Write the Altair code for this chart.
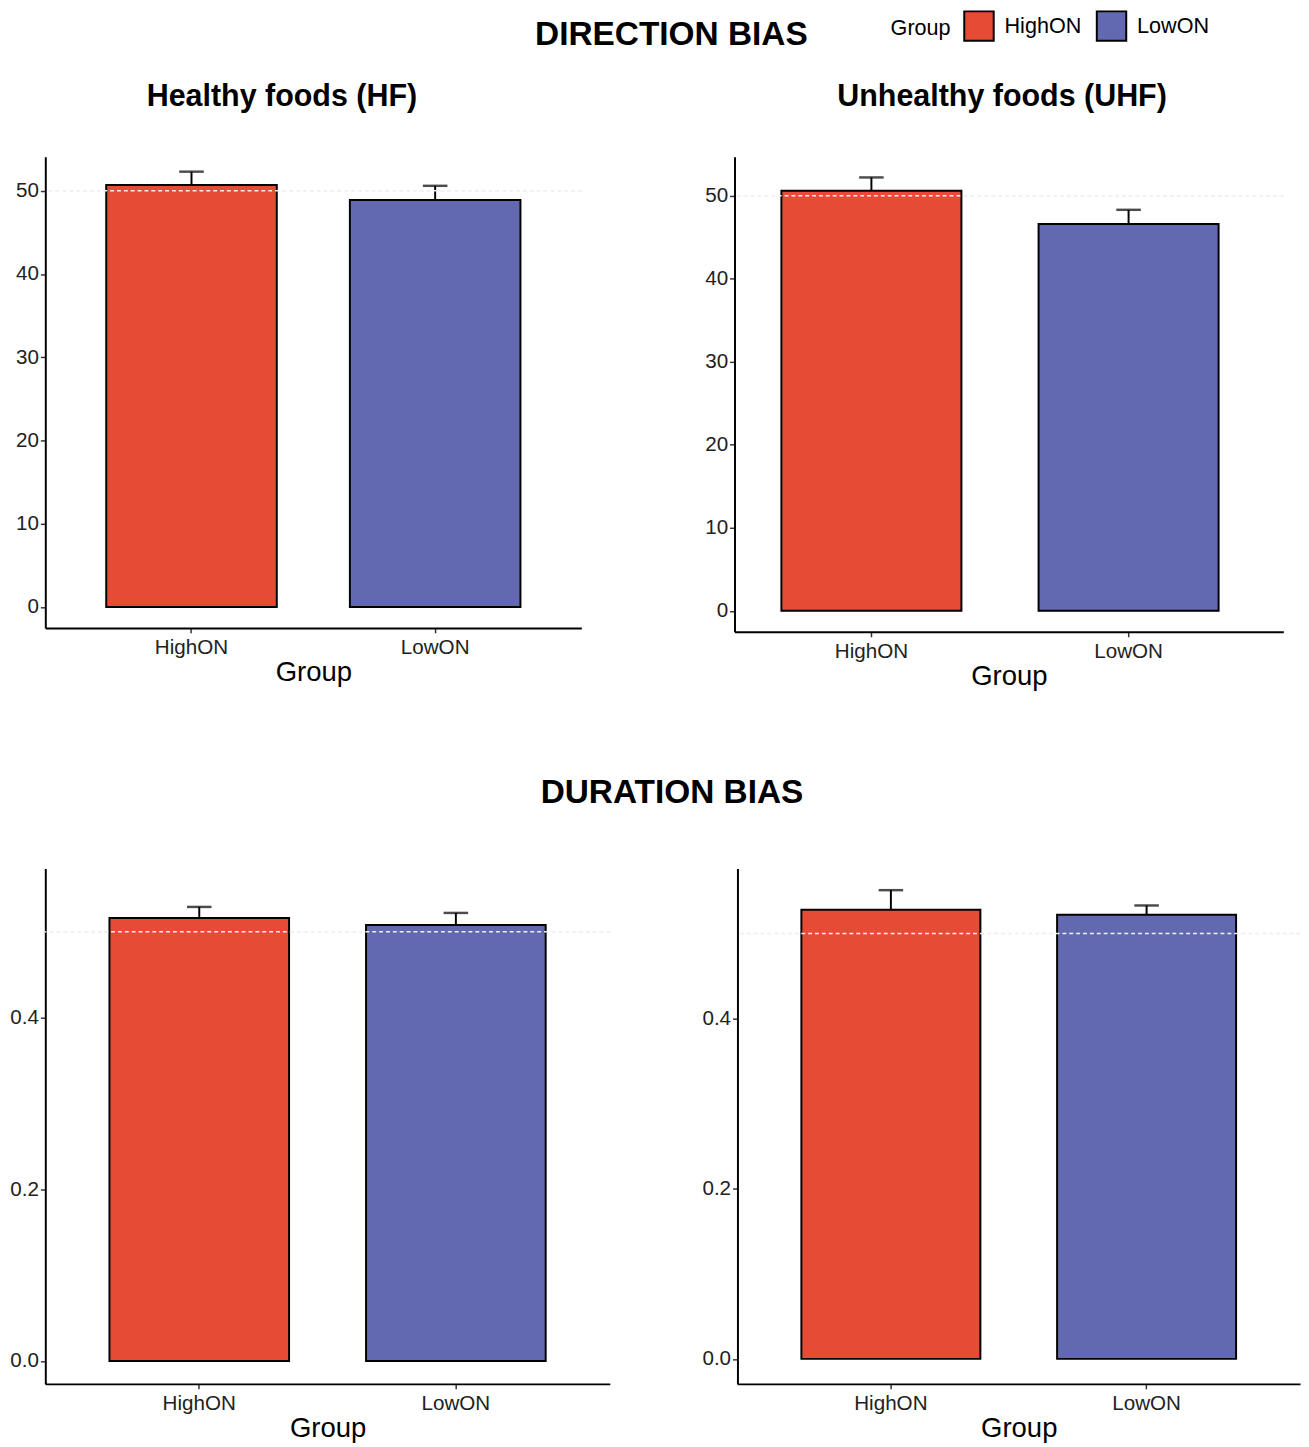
import altair as alt
import pandas as pd

groups = ["HighON", "LowON"]
colors = ["#E64B35", "#6369B0"]

# Direction bias (values), upper error = mean + se
dir_hf_mean = [50.7, 48.9]
dir_hf_se = [1.6, 1.7]
dir_uhf_mean = [50.6, 46.6]
dir_uhf_se = [1.6, 1.7]
# Duration bias
dur_hf_mean = [0.516, 0.508]
dur_hf_se = [0.013, 0.014]
dur_uhf_mean = [0.528, 0.522]
dur_uhf_se = [0.023, 0.011]

dir_ticks = [0, 10, 20, 30, 40, 50]
dur_ticks = [0.0, 0.2, 0.4]
dir_ref = 50
dur_ref = 0.5

FONT = "Liberation Sans"


def panel(mean, se, ref, domain, ticks, fmt, w, h, title=None, title_style=None,
          pad_outer=0.25, align=0.5):
    df = pd.DataFrame({
        "Group": groups,
        "mean": mean,
        "upper": [m + s for m, s in zip(mean, se)],
    })
    ref_df = pd.DataFrame({"ref": [ref]})
    xenc = alt.X(
        "Group:N",
        sort=groups,
        scale=alt.Scale(paddingInner=0.3, paddingOuter=pad_outer, align=align),
        axis=alt.Axis(
            title="Group", labelAngle=0, labelFontSize=21, labelColor="#222",
            labelFont=FONT, titleFont=FONT, titleFontSize=28, titleFontWeight="normal",
            titleColor="black", domainColor="black", domainWidth=2, tickColor="#333",
            tickSize=5, tickWidth=1.5, labelPadding=4, titlePadding=2,
        ),
    )
    yscale = alt.Scale(domain=domain, nice=False, zero=False)
    yaxis = alt.Axis(
        title=None, values=ticks, format=fmt, grid=False, labelFontSize=21,
        labelColor="#222", labelFont=FONT, domainColor="black", domainWidth=2,
        tickColor="#333", tickSize=5, tickWidth=1.5, labelPadding=2,
    )
    grey = alt.Chart(ref_df).mark_rule(
        color="#d8d8d8", strokeDash=[2, 5], strokeWidth=1.5
    ).encode(y=alt.Y("ref:Q", scale=yscale, axis=yaxis))
    base = alt.Chart(df)
    err = base.mark_rule(color="black", strokeWidth=2).encode(
        x=xenc, y=alt.Y("mean:Q", scale=yscale, axis=yaxis), y2="upper:Q"
    )
    cap = base.mark_tick(color="black", size=25, thickness=2.5).encode(
        x=xenc, y=alt.Y("upper:Q", scale=yscale, axis=yaxis)
    )
    bars = base.mark_bar(stroke="black", strokeWidth=2, opacity=1).encode(
        x=xenc,
        y=alt.Y("mean:Q", scale=yscale, axis=yaxis),
        y2=alt.datum(0),
        color=alt.Color(
            "Group:N",
            scale=alt.Scale(domain=groups, range=colors),
            legend=alt.Legend(
                orient="none", legendX=861, legendY=-149, direction="horizontal",
                titleOrient="left", title="Group", titleFontSize=22,
                titleFontWeight="normal", titleFont=FONT, titleColor="black",
                labelFont=FONT, labelFontSize=22, labelColor="black",
                symbolType="square", symbolSize=900, symbolStrokeColor="black",
                symbolStrokeWidth=2, symbolOpacity=1, labelOffset=10,
                columnPadding=11, titlePadding=12, padding=0,
            ),
        ),
    )
    white = alt.Chart(ref_df).mark_rule(
        color="#f2f2f2", strokeDash=[4, 3], strokeWidth=1.5
    ).encode(y=alt.Y("ref:Q", scale=yscale, axis=yaxis))
    props = dict(width=w, height=h)
    if title is not None:
        props["title"] = alt.TitleParams(text=title, **title_style)
    return alt.layer(grey, err, cap, bars, white).properties(**props)


def sub_style(dx):
    return dict(fontSize=31, fontWeight="bold", font=FONT, color="black",
                anchor="middle", offset=45, dx=dx)


p1 = panel(dir_hf_mean, dir_hf_se, dir_ref, [-2.52, 54.1], dir_ticks, "d",
           546, 480, "Healthy foods (HF)", sub_style(-32))
p2 = panel(dir_uhf_mean, dir_uhf_se, dir_ref, [-2.53, 54.7], dir_ticks, "d",
           559, 484, "Unhealthy foods (UHF)", sub_style(-7),
           pad_outer=0.217, align=0.42)
p3 = panel(dur_hf_mean, dur_hf_se, dur_ref, [-0.0268, 0.5738], dur_ticks, ".1f",
           575, 525)
p4 = panel(dur_uhf_mean, dur_uhf_se, dur_ref, [-0.0294, 0.5765], dur_ticks, ".1f",
           573, 525)

row1 = alt.hconcat(p1, p2, spacing=124).properties(
    title=alt.TitleParams(text="DIRECTION BIAS", fontSize=34, fontWeight="bold",
                          font=FONT, color="black", anchor="middle", offset=30, dx=22)
)
row2 = alt.hconcat(p3, p4, spacing=92).properties(
    title=alt.TitleParams(text="DURATION BIAS", fontSize=34, fontWeight="bold",
                          font=FONT, color="black", anchor="middle", offset=60, dx=17)
)

chart = alt.vconcat(row1, row2, spacing=87).properties(
    padding={"left": 1, "top": -11, "right": 0, "bottom": 0},
    background="white",
).configure_view(strokeWidth=0, stroke="transparent")

chart.save("out.html", embed_options={"renderer": "svg", "actions": False})
